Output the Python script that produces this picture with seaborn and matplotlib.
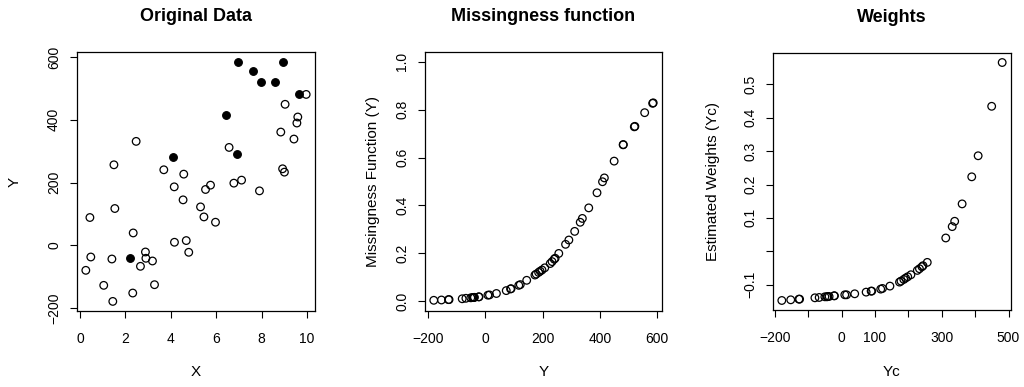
import numpy as np
import pandas as pd
import matplotlib
matplotlib.use("Agg")
import matplotlib.pyplot as plt
import seaborn as sns

# ---------------- data ----------------
# observed (complete) cases: open circles
x_obs = [9.97, 9.04, 9.60, 9.56, 8.85, 9.43, 2.47, 6.57, 1.49, 3.69,
         8.93, 9.01, 4.57, 7.12, 6.78, 5.75, 5.53, 4.15, 7.91, 4.54,
         1.53, 5.31, 5.46, 5.97, 0.43, 2.34, 4.16, 4.68, 4.79, 2.88,
         2.90, 3.19, 2.66, 0.47, 1.40, 0.25, 1.04, 3.28, 2.32, 1.44]
y_obs = [481.0, 449.5, 409.0, 389.8, 361.0, 338.7, 331.3, 312.0, 256.6, 240.7,
         243.9, 233.2, 226.8, 207.7, 198.1, 191.7, 177.9, 186.3, 173.5, 144.8,
         117.2, 122.4, 90.4, 73.5, 88.5, 39.3, 9.6, 15.0, -22.4, -21.4,
         -41.5, -50.1, -67.1, -37.4, -43.8, -79.9, -127.8, -125.7, -152.3, -179.0]
# missingness function for observed cases
p_obs = [0.653, 0.585, 0.499, 0.453, 0.390, 0.346, 0.330, 0.292, 0.200, 0.176,
         0.180, 0.166, 0.158, 0.140, 0.131, 0.126, 0.114, 0.121, 0.110, 0.088,
         0.067, 0.070, 0.053, 0.045, 0.052, 0.033, 0.026, 0.027, 0.019, 0.019,
         0.016, 0.015, 0.013, 0.017, 0.016, 0.011, 0.0074, 0.0075, 0.0059, 0.0046]
# estimated weights for observed cases
w_obs = [0.565, 0.434, 0.286, 0.223, 0.142, 0.090, 0.074, 0.040, -0.033, -0.046,
         -0.043, -0.052, -0.057, -0.070, -0.076, -0.080, -0.089, -0.084, -0.092, -0.104,
         -0.113, -0.111, -0.119, -0.122, -0.119, -0.127, -0.130, -0.130, -0.133, -0.133,
         -0.135, -0.136, -0.138, -0.135, -0.136, -0.139, -0.143, -0.143, -0.145, -0.147]

# missing cases: filled circles
x_mis = [6.96, 7.62, 7.98, 8.60, 8.94, 9.66, 6.43, 4.09, 6.94, 2.18]
y_mis = [583.7, 555.9, 519.8, 521.8, 585.7, 481.4, 415.4, 280.2, 291.7, -39.4]
p_mis = [0.826, 0.787, 0.728, 0.730, 0.828, 0.654, 0.515, 0.238, 0.256, 0.016]

titles = ["Original Data", "Missingness function", "Weights"]

obs = pd.DataFrame({"X": x_obs, "Y": y_obs, "P": p_obs, "W": w_obs})
mis = pd.DataFrame({"X": x_mis, "Y": y_mis, "P": p_mis})
allp = pd.concat([obs[["Y", "P"]], mis[["Y", "P"]]], ignore_index=True)

# ---------------- style ----------------
sns.set_theme(style="ticks")
plt.rcParams["font.family"] = ["Liberation Sans", "DejaVu Sans"]
plt.rcParams.update({
    "axes.edgecolor": "black", "axes.linewidth": 0.9,
    "xtick.color": "black", "ytick.color": "black",
    "xtick.major.size": 5, "ytick.major.size": 5,
    "xtick.major.width": 0.8, "ytick.major.width": 0.8,
    "xtick.labelsize": 10, "ytick.labelsize": 10,
    "axes.labelsize": 11, "text.color": "black", "axes.labelcolor": "black",
})

def rpad(vals, frac=0.04):
    lo, hi = min(vals), max(vals)
    d = (hi - lo) * frac
    return lo - d, hi + d

fig = plt.figure(figsize=(10.24, 3.87), dpi=100)
W, H = 1024, 387
boxes = [(77, 52, 315, 311), (425, 52, 662, 311), (773, 53, 1011, 310)]
axes = []
for (l, t, r, b) in boxes:
    axes.append(fig.add_axes([l / W, 1 - b / H, (r - l) / W, (b - t) / H]))

ms = 30
lw = 0.9
open_kw = dict(facecolor="none", edgecolor="black", linewidth=lw, s=ms, legend=False)

# Panel 1
ax = axes[0]
sns.scatterplot(data=obs, x="X", y="Y", ax=ax, **open_kw)
sns.scatterplot(data=mis, x="X", y="Y", ax=ax, color="black", edgecolor="black",
                linewidth=lw, s=ms, legend=False)
ax.set_xlim(rpad(x_obs + x_mis))
ax.set_ylim(rpad(y_obs + y_mis))
ax.set_xticks([0, 2, 4, 6, 8, 10])
ax.set_yticks([-200, 0, 200, 400, 600])
ax.set_xlabel("X")
ax.set_ylabel("Y")

# Panel 2
ax = axes[1]
sns.scatterplot(data=allp, x="Y", y="P", ax=ax, **open_kw)
ax.set_xlim(rpad(y_obs + y_mis))
ax.set_ylim(rpad([0, 1]))
ax.set_xticks([-200, 0, 200, 400, 600])
ax.set_yticks([0, 0.2, 0.4, 0.6, 0.8, 1.0])
ax.set_yticklabels(["0.0", "0.2", "0.4", "0.6", "0.8", "1.0"])
ax.set_xlabel("Y")
ax.set_ylabel("Missingness Function (Y)")

# Panel 3
ax = axes[2]
sns.scatterplot(data=obs, x="Y", y="W", ax=ax, **open_kw)
ax.set_xlim(rpad(y_obs))
ax.set_ylim(rpad(w_obs))
ax.set_xticks([-200, -100, 0, 100, 200, 300, 400, 500])
ax.set_xticklabels(["\u2212200", "", "0", "100", "", "300", "", "500"])
ax.set_yticks([-0.1, 0.0, 0.1, 0.2, 0.3, 0.4, 0.5])
ax.set_yticklabels(["\u22120.1", "", "0.1", "0.2", "0.3", "0.4", "0.5"])
ax.set_xlabel("Yc")
ax.set_ylabel("Estimated Weights (Yc)")

ylab_x = [-0.2605, -0.219, -0.252]
xlab_y = [-0.2355, -0.2355, -0.241]
for ax, tt, yx, xy in zip(axes, titles, ylab_x, xlab_y):
    ax.set_title(tt, fontsize=13, fontweight="bold", pad=22)
    for lab in ax.get_yticklabels():
        lab.set_rotation(90)
        lab.set_va("center")
    ax.tick_params(axis="x", pad=10)
    ax.tick_params(axis="y", pad=6.5)
    ax.yaxis.set_label_coords(yx, 0.5)
    ax.xaxis.set_label_coords(0.5, xy)
    ax.yaxis.label.set_va("center")
    ax.xaxis.label.set_va("center")
    for s in ax.spines.values():
        s.set_visible(True)

fig.savefig("out.png", dpi=100)
